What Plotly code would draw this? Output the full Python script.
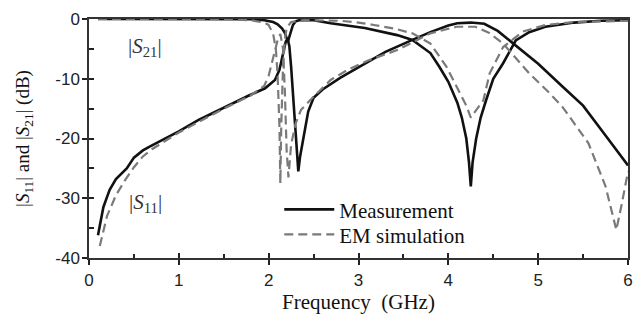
import plotly.graph_objects as go

# ---- data ----
meas_s21_f = [0.1, 0.5, 1.0, 1.5, 1.8, 1.95, 2.05, 2.1, 2.15, 2.18, 2.2, 2.22, 2.24, 2.27, 2.3, 2.35,
              2.5, 2.69, 3.07, 3.43, 3.6, 3.8, 3.9, 4.0, 4.1, 4.15, 4.2, 4.23, 4.25, 4.27, 4.31,
              4.36, 4.42, 4.5, 4.61, 4.75, 4.9, 5.08, 5.4, 5.7, 6.0]
meas_s21_db = [0, 0, 0, 0, -0.05, -0.2, -0.5, -0.9, -1.6, -2.3, -3.2, -3.5, -2.5, -1.0, -0.4, -0.15,
               -0.2, -0.7, -1.5, -2.7, -3.5, -5.7, -8.0, -10.5, -14.0, -16.5, -20.0, -24.0, -28.0, -24.0, -20.0,
               -16.5, -13.6, -10.0, -7.4, -3.6, -2.2, -1.3, -0.6, -0.3, -0.2]

meas_s11_f = [0.1, 0.13, 0.16, 0.2, 0.23, 0.3, 0.42, 0.5, 0.6, 0.67, 0.8, 1.0, 1.22, 1.5, 1.78, 1.96,
              2.07, 2.12, 2.16, 2.19, 2.21, 2.23, 2.25, 2.27, 2.3, 2.33, 2.35, 2.38, 2.41, 2.44, 2.5,
              2.6, 2.8, 3.07, 3.3, 3.6, 3.8, 4.0, 4.1, 4.25, 4.4, 4.55, 4.72, 5.0, 5.27, 5.5, 5.75,
              5.93, 6.0]
meas_s11_db = [-36.2, -33.5, -31.5, -29.8, -28.6, -26.8, -25.0, -23.2, -22.0, -21.4, -20.4, -18.8, -16.9,
               -14.8, -12.8, -11.6, -10.2, -8.5, -5.5, -3.8, -3.3, -4.5, -8.0, -12.0, -18.0, -25.5, -23.0,
               -20.5, -17.5, -15.5, -13.2, -11.8, -9.8, -7.4, -5.5, -3.5, -2.2, -1.1, -0.7, -0.6, -0.8,
               -2.0, -4.1, -7.5, -11.3, -14.5, -19.5, -23.0, -24.5]

sim_s21_f = [0.1, 1.5, 1.8, 1.95, 2.0, 2.05, 2.08, 2.1, 2.12, 2.13, 2.14, 2.16, 2.18, 2.2, 2.25, 2.4,
             2.8, 3.0, 3.17, 3.4, 3.6, 3.8, 3.98, 4.13, 4.2, 4.25, 4.3, 4.39, 4.46, 4.61, 4.83, 5.08,
             5.4, 6.0]
sim_s21_db = [0, 0, -0.2, -0.6, -1.0, -2.5, -5.0, -9.5, -18.0, -27.5, -18.0, -8.0, -3.5, -1.5, -0.5, -0.2,
              -0.3, -0.6, -1.0, -1.6, -2.4, -4.1, -8.0, -12.4, -14.5, -16.5, -15.5, -13.6, -9.1, -4.7, -2.1,
              -1.0, -0.5, -0.3]

sim_s11_f = [0.12, 0.15, 0.2, 0.3, 0.4, 0.5, 0.6, 0.7, 1.0, 1.5, 1.8, 1.95, 2.0, 2.05, 2.1, 2.13, 2.16,
             2.18, 2.2, 2.22, 2.25, 2.3, 2.36, 2.5, 2.69, 2.88, 3.1, 3.43, 3.8, 4.09, 4.3, 4.45, 4.61,
             4.9, 5.1, 5.27, 5.56, 5.75, 5.87, 5.93, 6.0]
sim_s11_db = [-38.0, -36.0, -33.0, -29.5, -27.0, -24.8, -23.0, -21.8, -19.0, -15.0, -12.8, -11.2, -9.5,
              -6.5, -3.5, -2.5, -5.0, -12.0, -22.0, -26.5, -21.0, -17.5, -15.2, -13.0, -10.2, -8.5, -7.0,
              -5.2, -2.4, -1.3, -1.3, -2.3, -4.1, -9.1, -12.0, -14.7, -20.8, -28.0, -35.3, -31.0, -25.5]

x_ticks = [0, 1, 2, 3, 4, 5, 6]
x_labels = ["0", "1", "2", "3", "4", "5", "6"]
y_ticks = [-40, -30, -20, -10, 0]
y_labels = ["-40", "-30", "-20", "-10", "0"]

MEAS = "#111111"
SIM = "#7a7a7a"

fig = go.Figure()
fig.add_trace(go.Scatter(x=meas_s21_f, y=meas_s21_db, mode="lines", name="Measurement",
                         line=dict(color=MEAS, width=2.6), legend="legend"))
fig.add_trace(go.Scatter(x=meas_s11_f, y=meas_s11_db, mode="lines", showlegend=False,
                         line=dict(color=MEAS, width=2.6)))
fig.add_trace(go.Scatter(x=sim_s21_f, y=sim_s21_db, mode="lines", name="EM simulation",
                         line=dict(color=SIM, width=2.2, dash="9px,5px"), legend="legend2"))
fig.add_trace(go.Scatter(x=sim_s11_f, y=sim_s11_db, mode="lines", showlegend=False,
                         line=dict(color=SIM, width=2.2, dash="9px,5px")))
# empty trace to carry the inner tick axes
fig.add_trace(go.Scatter(x=[], y=[], xaxis="x2", yaxis="y2", showlegend=False))

tickfont = dict(family="Liberation Sans, Arial", size=17, color="#222222")
serif = "Liberation Serif, Times New Roman"
legfont = dict(family=serif, size=21, color="#111111")

fig.update_layout(
    width=637, height=321,
    margin=dict(l=89, r=4, t=19, b=63),
    paper_bgcolor="white", plot_bgcolor="white",
    showlegend=True,
    legend=dict(x=0.353, y=0.202, xanchor="left", yanchor="middle", font=legfont,
                bgcolor="rgba(0,0,0,0)", itemwidth=50),
    legend2=dict(x=0.353, y=0.097, xanchor="left", yanchor="middle", font=legfont,
                 bgcolor="rgba(0,0,0,0)", itemwidth=50),
    xaxis=dict(range=[0, 6], tickvals=x_ticks, ticktext=x_labels, ticks="outside", ticklen=5,
               tickwidth=1.5, tickcolor="#222", showline=True, linecolor="#333", linewidth=1.5,
               mirror=True, showgrid=False, zeroline=False, tickfont=tickfont, ticklabelstandoff=1,
               ticklabeloverflow="allow",
               minor=dict(tickvals=[0.5, 1.5, 2.5, 3.5, 4.5, 5.5], ticks="inside", ticklen=4,
                          tickcolor="#222", tickwidth=1.5),
               title=dict(text="Frequency  (GHz)", font=dict(family=serif, size=21, color="#111"),
                          standoff=3)),
    yaxis=dict(range=[-40, 0], tickvals=y_ticks, ticktext=y_labels, ticks="outside", ticklen=5,
               tickwidth=1.5, tickcolor="#222", showline=True, linecolor="#333", linewidth=1.5,
               mirror=True, showgrid=False, zeroline=False, tickfont=tickfont, ticklabelstandoff=-1,
               minor=dict(tickvals=[-35, -25, -15, -5], ticks="inside", ticklen=5,
                          tickcolor="#222", tickwidth=1.5),
               title=dict(text="|<i>S</i><sub>11</sub>| and |<i>S</i><sub>21</sub>| (dB)",
                          font=dict(family=serif, size=19, color="#111"), standoff=21)),
    xaxis2=dict(range=[0, 6], overlaying="x", anchor="y2", side="bottom", tickvals=x_ticks,
                ticks="inside", ticklen=5, tickwidth=1.5, tickcolor="#222", showticklabels=False,
                showline=False, showgrid=False, zeroline=False),
    yaxis2=dict(range=[-40, 0], overlaying="y", anchor="x2", side="left", tickvals=y_ticks,
                ticks="inside", ticklen=5, tickwidth=1.5, tickcolor="#222", showticklabels=False,
                showline=False, showgrid=False, zeroline=False),
)

fig.add_annotation(x=0.41, y=-4.75, xref="x", yref="y", xanchor="left", showarrow=False,
                   text="|<i>S</i><sub>21</sub>|", font=dict(family=serif, size=21, color="#333"))
fig.add_annotation(x=0.42, y=-30.8, xref="x", yref="y", xanchor="left", showarrow=False,
                   text="|<i>S</i><sub>11</sub>|", font=dict(family=serif, size=21, color="#333"))

fig.write_html("out.html", config={"displayModeBar": False},
               post_script="document.body.style.margin='0';")
